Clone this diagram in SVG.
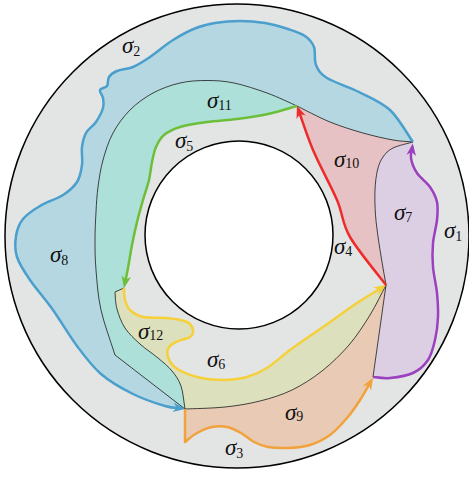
<svg xmlns="http://www.w3.org/2000/svg" width="469" height="477" viewBox="0 0 469 477">
<style>
.thin{fill:none;stroke:#1a1a1a;stroke-width:0.8}
.cv{fill:none;stroke-width:2.5;stroke-linejoin:round}
.lbl{font-family:"Liberation Serif","Times New Roman",serif;fill:#111}
.g{font-style:italic;font-size:23px}
.n{font-size:14px}
</style>
<defs>
<marker id="mB" viewBox="-13 -6 14 12" refX="-3" refY="0" markerWidth="14" markerHeight="12" markerUnits="userSpaceOnUse" orient="auto"><path d="M0,0 L-12,-4.8 L-8.5,0 L-12,4.8 Z" fill="#4a9fcd"/></marker>
<marker id="mG" viewBox="-13 -6 14 12" refX="-3" refY="0" markerWidth="14" markerHeight="12" markerUnits="userSpaceOnUse" orient="auto"><path d="M0,0 L-12,-4.8 L-8.5,0 L-12,4.8 Z" fill="#6cbf3a"/></marker>
<marker id="mY" viewBox="-13 -6 14 12" refX="-3" refY="0" markerWidth="14" markerHeight="12" markerUnits="userSpaceOnUse" orient="auto"><path d="M0,0 L-12,-4.8 L-8.5,0 L-12,4.8 Z" fill="#f6d03a"/></marker>
<marker id="mR" viewBox="-13 -6 14 12" refX="-3" refY="0" markerWidth="14" markerHeight="12" markerUnits="userSpaceOnUse" orient="auto"><path d="M0,0 L-12,-4.8 L-8.5,0 L-12,4.8 Z" fill="#ee2b2b"/></marker>
<marker id="mP" viewBox="-13 -6 14 12" refX="-3" refY="0" markerWidth="14" markerHeight="12" markerUnits="userSpaceOnUse" orient="auto"><path d="M0,0 L-12,-4.8 L-8.5,0 L-12,4.8 Z" fill="#9b40be"/></marker>
<marker id="mO" viewBox="-13 -6 14 12" refX="-3" refY="0" markerWidth="14" markerHeight="12" markerUnits="userSpaceOnUse" orient="auto"><path d="M0,0 L-12,-4.8 L-8.5,0 L-12,4.8 Z" fill="#f2a23c"/></marker>
</defs>

<g id="annulus">
<circle cx="237" cy="236" r="232" fill="#e3e4e4" stroke="#000" stroke-width="1.5"/>
</g>

<g id="regions">
<path id="r-blue" fill="#b5d7e1" d="M413,142 C409,136.7 399,118.3 390,110 S369.5,97.3 359,92 S334.2,82.5 327,78 S318.2,70.2 316,65 S315.8,51.8 314,47 S309.3,39 305,36 S294.7,31.2 288,29 S273,24.3 265,23 S248.3,21 240,21 S222.3,21.8 215,23 S203,25.2 196,28 S180.7,35.2 173,40 S156.7,52.5 150,57 S138.5,64.7 133,67 S121,69.3 117,71 S110.7,74.5 109,77 S108.5,83.8 107,86 S100.7,88 100,90 S102.5,95 103,98 S104.2,104 103,108 S98.8,117.8 96,122 S88.3,128.8 86,133 S82.7,141.7 82,147 S82.8,159.2 82,165 S80.2,177 77,182 S69.2,191 63,195 S46.7,202 40,206 S27,214 23,219 S17,229.7 16,236 S14.7,249.7 17,257 S24,271.2 30,280 S45.2,299 53,310 S69,335.3 77,346 S91.7,366 101,374 S122.3,388.7 133,394 S156.3,403.5 165,406 S178.3,408 185,409 L200,300 L300,170 L350,150 Z"/>
<path id="r-teal" fill="#ade0d8" d="M297,106 C292,103.8 277.5,96.8 267,93 S244,85.1 234,83 S216,80.5 207,80.5 S189,80.9 180,83 S161.3,88.5 153,93 S136.7,103.3 130,110 S117.5,124.7 113,133 S105.5,151 103,160 S99.2,178.3 98,187 S96.5,203.2 96,212 S95,230.3 95,240 S95,258.3 96,270 S97.8,295.8 101,310 S110.3,340 115,355 L185,409 L200,300 L240,150 Z"/>
<path id="r-orange" fill="#e8cab5" d="M185,409 L185,442 C188,439.8 192.5,435.5 197,433 S207,428 212,427 S222.2,426 227,427 S236.5,430.5 241,433 S249.5,439.7 254,442 S262.3,446 268,447 S281,448.3 288,448 S303,447.2 310,445 S323.8,439.5 330,435 S342,423.8 347,418 S355.7,406.8 360,400 S368.7,384.7 373,377 L386,285 Z"/>
<path id="r-olive" fill="#dde0bc" d="M124,288 L115,292 C115.3,294.8 115.3,303 117,309 S121.2,322.2 125,328 S134.5,339 140,344 S152.7,353.5 158,358 S168.2,366.3 172,371 S178.8,379.7 181,386 S183.7,401.3 185,409 C191.7,408.7 212.5,408.3 225,407 S248.8,403.8 260,401 S281.7,395 292,390 S312.5,378.5 322,371 S341,354.3 349,345 S363.8,325 370,315 S380.7,295 386,285 L300,300 L170,290 Z"/>
<path id="r-red" fill="#e6c2c4" d="M386,285 C380,277 358.3,251.2 350,237 S343.2,214.5 337,200 S319.7,165.8 313,150 S302.3,120.7 297,106 C302.5,108.7 319,117.5 330,122 S352.5,130 363,133 S384.7,138.5 393,140 S406.3,141.3 413,142 L395,190 L395,250 Z"/>
<path id="r-purple" fill="#dccfe4" d="M373,377 C375.8,377.2 383.3,378.7 390,378 S406.7,376 413,373 S424.3,365.5 428,360 S433.3,347.2 435,340 S437.7,324.8 438,317 S437.8,301.3 437,293 S433.7,275.3 433,267 S432.3,250.8 433,243 S436.3,226.8 437,220 S438.2,207.5 437,202 S433.3,191.8 430,187 S420.2,177.8 417,173 S411.7,163 411,158 S412.3,147.3 413,142 C409.7,143 398,145.5 393,148 S385.6,153.3 383,157 S378.8,164.5 377.5,170 S375.3,182.5 375,190 S374.9,206.7 375.5,215 S377.4,232.2 378.5,240 S380.8,254.5 382,262 S384.7,277.3 386,285 Z"/>
<path id="r-inner" fill="#e3e4e4" d="M297,106 C292.2,107.3 278,111.8 268,114 S247.2,117.7 237,119 S216.5,120.7 207,122 S187.2,124.8 180,127 S168,131.7 164,135 S158,142.5 156,147 S153.2,156.5 152,162 S150.5,173.7 149,180 S145,193 143,200 S138.8,214.5 137,222 S133.5,237.3 132,245 S129.3,261 128,268 S125.3,281.5 124,288 C124.2,290 124,296.3 125,300 S127,307.2 130,310 S136.8,315.7 143,317 S159.7,317.2 167,318 S182.7,320 187,322 S192.5,327.5 193,330 S192.5,335.2 190,337 S181.5,339.3 178,341 S170.7,344.3 169,347 S166.8,353.5 168,357 S171.2,364.7 176,368 S189.2,375 197,377 S214.7,380 223,380 S239.7,379 247,377 S259.8,372.5 267,368 S280.7,356.8 290,350 S311.8,334.8 323,327 S346.5,310 357,303 S376.3,291 386,285 C380,277 358.3,251.2 350,237 S343.2,214.5 337,200 S319.7,165.8 313,150 S302.3,120.7 297,106 Z"/>
<circle id="hole" cx="239" cy="235" r="94" fill="#fff" stroke="#000" stroke-width="1.5"/>
</g>

<g id="boundaries">
<path class="thin" d="M297,106 C292,103.8 277.5,96.8 267,93 S244,85.1 234,83 S216,80.5 207,80.5 S189,80.9 180,83 S161.3,88.5 153,93 S136.7,103.3 130,110 S117.5,124.7 113,133 S105.5,151 103,160 S99.2,178.3 98,187 S96.5,203.2 96,212 S95,230.3 95,240 S95,258.3 96,270 S97.8,295.8 101,310 S110.3,340 115,355 L185,409"/>
<path class="thin" d="M124,288 L115,292 C115.3,294.8 115.3,303 117,309 S121.2,322.2 125,328 S134.5,339 140,344 S152.7,353.5 158,358 S168.2,366.3 172,371 S178.8,379.7 181,386 S183.7,401.3 185,409"/>
<path class="thin" d="M185,409 C191.7,408.7 212.5,408.3 225,407 S248.8,403.8 260,401 S281.7,395 292,390 S312.5,378.5 322,371 S341,354.3 349,345 S363.8,325 370,315 S380.7,295 386,285"/>
<path class="thin" d="M297,106 C302.5,108.7 319,117.5 330,122 S352.5,130 363,133 S384.7,138.5 393,140 S406.3,141.3 413,142"/>
<path class="thin" d="M413,142 C409.7,143 398,145.5 393,148 S385.6,153.3 383,157 S378.8,164.5 377.5,170 S375.3,182.5 375,190 S374.9,206.7 375.5,215 S377.4,232.2 378.5,240 S380.8,254.5 382,262 S384.7,277.3 386,285"/>
<path class="thin" d="M386,285 L373,377"/>
</g>

<g id="connectors">
<path id="c-blue" class="cv" stroke="#4a9fcd" marker-end="url(#mB)" d="M413,142 C409,136.7 399,118.3 390,110 S369.5,97.3 359,92 S334.2,82.5 327,78 S318.2,70.2 316,65 S315.8,51.8 314,47 S309.3,39 305,36 S294.7,31.2 288,29 S273,24.3 265,23 S248.3,21 240,21 S222.3,21.8 215,23 S203,25.2 196,28 S180.7,35.2 173,40 S156.7,52.5 150,57 S138.5,64.7 133,67 S121,69.3 117,71 S110.7,74.5 109,77 S108.5,83.8 107,86 S100.7,88 100,90 S102.5,95 103,98 S104.2,104 103,108 S98.8,117.8 96,122 S88.3,128.8 86,133 S82.7,141.7 82,147 S82.8,159.2 82,165 S80.2,177 77,182 S69.2,191 63,195 S46.7,202 40,206 S27,214 23,219 S17,229.7 16,236 S14.7,249.7 17,257 S24,271.2 30,280 S45.2,299 53,310 S69,335.3 77,346 S91.7,366 101,374 S122.3,388.7 133,394 S156.3,403.5 165,406 S176.3,407.7 182,408.5"/>
<path id="c-green" class="cv" stroke="#6cbf3a" marker-end="url(#mG)" d="M297,106 C292.2,107.3 278,111.8 268,114 S247.2,117.7 237,119 S216.5,120.7 207,122 S187.2,124.8 180,127 S168,131.7 164,135 S158,142.5 156,147 S153.2,156.5 152,162 S150.5,173.7 149,180 S145,193 143,200 S138.8,214.5 137,222 S133.5,237.3 132,245 S129.3,261 128,268 S125.7,279.3 124.6,285"/>
<path id="c-yellow" class="cv" stroke="#f6d03a" marker-end="url(#mY)" d="M124,288 C124.2,290 124,296.3 125,300 S127,307.2 130,310 S136.8,315.7 143,317 S159.7,317.2 167,318 S182.7,320 187,322 S192.5,327.5 193,330 S192.5,335.2 190,337 S181.5,339.3 178,341 S170.7,344.3 169,347 S166.8,353.5 168,357 S171.2,364.7 176,368 S189.2,375 197,377 S214.7,380 223,380 S239.7,379 247,377 S259.8,372.5 267,368 S280.7,356.8 290,350 S311.8,334.8 323,327 S346.5,310 357,303 S374.6,292 383.4,286.6"/>
<path id="c-red" class="cv" stroke="#ee2b2b" marker-end="url(#mR)" d="M386,285 C380,277 358.3,251.2 350,237 S343.2,214.5 337,200 S319.7,165.8 313,150 S303,122.5 298,108.8"/>
<path id="c-purple" class="cv" stroke="#9b40be" marker-end="url(#mP)" d="M373,377 C375.8,377.2 383.3,378.7 390,378 S406.7,376 413,373 S424.3,365.5 428,360 S433.3,347.2 435,340 S437.7,324.8 438,317 S437.8,301.3 437,293 S433.7,275.3 433,267 S432.3,250.8 433,243 S436.3,226.8 437,220 S438.2,207.5 437,202 S433.3,191.8 430,187 S420.2,177.8 417,173 S411.7,163 411,158 S411.9,150.3 412.4,146.5"/>
<path id="c-orange" class="cv" stroke="#f2a23c" marker-end="url(#mO)" d="M185,409 L185,442 C188,439.8 192.5,435.5 197,433 S207,428 212,427 S222.2,426 227,427 S236.5,430.5 241,433 S249.5,439.7 254,442 S262.3,446 268,447 S281,448.3 288,448 S303,447.2 310,445 S323.8,439.5 330,435 S342,423.8 347,418 S355.7,406.8 360,400 S367.7,386.9 371.5,380.4"/>
</g>

<g id="labels" class="lbl">
<text x="122" y="53"><tspan class="g">σ</tspan><tspan class="n" dy="3">2</tspan></text>
<text x="207" y="108"><tspan class="g">σ</tspan><tspan class="n" dy="2">11</tspan></text>
<text x="175" y="148"><tspan class="g">σ</tspan><tspan class="n" dy="3">5</tspan></text>
<text x="334" y="167"><tspan class="g">σ</tspan><tspan class="n" dy="1">10</tspan></text>
<text x="394" y="220"><tspan class="g">σ</tspan><tspan class="n" dy="2">7</tspan></text>
<text x="444" y="238"><tspan class="g">σ</tspan><tspan class="n" dy="3">1</tspan></text>
<text x="50" y="262"><tspan class="g">σ</tspan><tspan class="n" dy="3">8</tspan></text>
<text x="334" y="254"><tspan class="g">σ</tspan><tspan class="n" dy="2">4</tspan></text>
<text x="138" y="339"><tspan class="g">σ</tspan><tspan class="n" dy="1">12</tspan></text>
<text x="207" y="367"><tspan class="g">σ</tspan><tspan class="n" dy="2">6</tspan></text>
<text x="285" y="420"><tspan class="g">σ</tspan><tspan class="n" dy="1">9</tspan></text>
<text x="225" y="455"><tspan class="g">σ</tspan><tspan class="n" dy="3">3</tspan></text>
</g>
</svg>
